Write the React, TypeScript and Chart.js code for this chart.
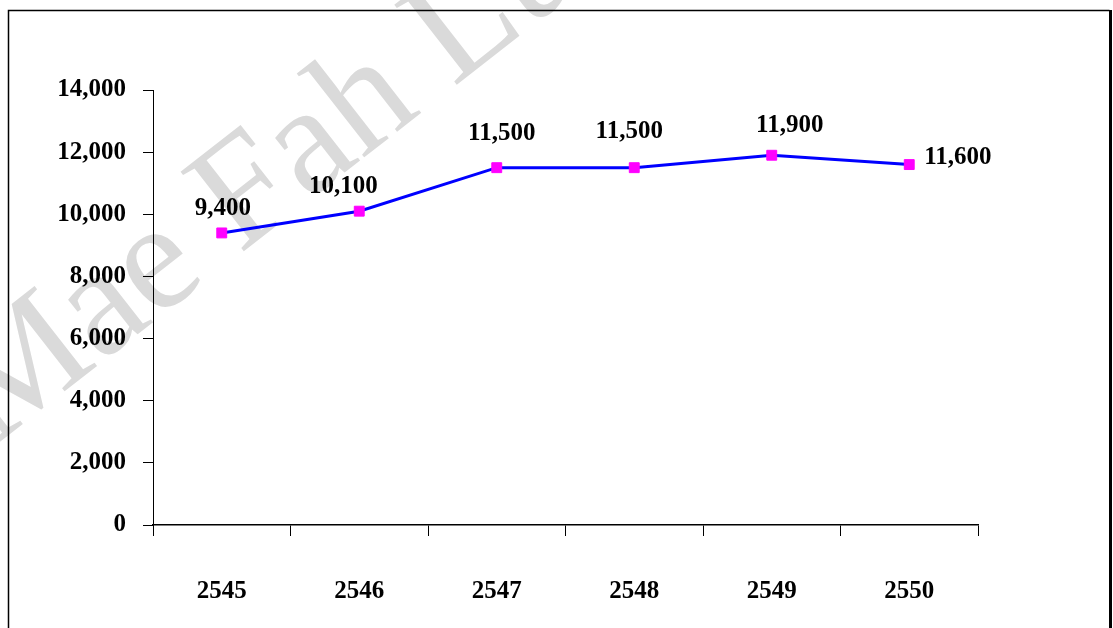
import React, { useEffect, useRef } from "react";
import { Chart, registerables } from "chart.js";

Chart.register(...registerables);

const years: string[] = ["2545", "2546", "2547", "2548", "2549", "2550"];
const values: number[] = [9400, 10100, 11500, 11500, 11900, 11600];
const yMin = 0;
const yMax = 14000;
const yStep = 2000;
const watermarkText = "Mae Fah Luang";

const FONT = "'Liberation Serif', 'Times New Roman', serif";

// label placement relative to each point (dx, dy to baseline, align)
const labelPlacement = [
  { dx: 1, dy: -18, align: "center" },
  { dx: -16, dy: -18, align: "center" },
  { dx: 5, dy: -28, align: "center" },
  { dx: -5, dy: -30, align: "center" },
  { dx: 18, dy: -23, align: "center" },
  { dx: 15, dy: -1, align: "left" },
];

const fmt = (v: number) => v.toLocaleString("en-US");

const framePlugin = {
  id: "frame",
  beforeDraw(chart: any) {
    const ctx = chart.ctx;
    ctx.save();
    ctx.fillStyle = "#ffffff";
    ctx.fillRect(0, 0, chart.width, chart.height);
    // watermark
    ctx.translate(-8, 448);
    ctx.rotate((-38 * Math.PI) / 180);
    ctx.font = `155px ${FONT}`;
    ctx.fillStyle = "#dadada";
    ctx.textBaseline = "alphabetic";
    ctx.textAlign = "left";
    ctx.fillText(watermarkText, 0, 0);
    ctx.restore();
    // frame
    ctx.save();
    ctx.strokeStyle = "#000000";
    ctx.lineWidth = 1.5;
    ctx.beginPath();
    ctx.moveTo(8.5, chart.height + 5);
    ctx.lineTo(8.5, 10.5);
    ctx.lineTo(1109.5, 10.5);
    ctx.stroke();
    ctx.lineWidth = 3;
    ctx.beginPath();
    ctx.moveTo(1110.5, 10);
    ctx.lineTo(1110.5, chart.height + 5);
    ctx.stroke();
    ctx.restore();
  },
};

const labelPlugin = {
  id: "valueLabels",
  afterDatasetsDraw(chart: any) {
    const ctx = chart.ctx;
    const meta = chart.getDatasetMeta(0);
    ctx.save();
    ctx.font = `bold 25px ${FONT}`;
    ctx.fillStyle = "#000000";
    ctx.textBaseline = "alphabetic";
    meta.data.forEach((pt: any, i: number) => {
      const p = labelPlacement[i];
      ctx.textAlign = p.align;
      ctx.fillText(fmt(values[i]), pt.x + p.dx, pt.y + p.dy);
    });
    ctx.restore();
  },
};

export default function App() {
  const ref = useRef<HTMLCanvasElement | null>(null);
  useEffect(() => {
    if (!ref.current) return;
    const chart = new Chart(ref.current, {
      type: "line",
      data: {
        labels: years,
        datasets: [
          {
            data: values,
            borderColor: "#0000ff",
            borderWidth: 3,
            backgroundColor: "#ff00ff",
            pointStyle: "rect",
            pointRadius: 7,
            pointBackgroundColor: "#ff00ff",
            pointBorderColor: "#ff00ff",
            pointBorderWidth: 1,
            tension: 0,
            fill: false,
          },
        ],
      },
      options: {
        animation: false,
        responsive: false,
        devicePixelRatio: 1,
        layout: { padding: { left: 57, right: 135, top: 90, bottom: 0 } },
        plugins: {
          legend: { display: false },
          tooltip: { enabled: false },
          title: { display: false },
        },
        scales: {
          x: {
            type: "category",
            offset: true,
            grid: {
              offset: true,
              drawOnChartArea: false,
              drawTicks: true,
              tickLength: 11,
              tickColor: "#000000",
              lineWidth: 1,
            },
            border: { color: "#000000", width: 1.5 },
            ticks: {
              color: "#000000",
              font: { family: FONT, size: 25, weight: "bold" },
              padding: 41,
              maxRotation: 0,
            },
            afterFit(scale: any) {
              scale.height = 103;
            },
          },
          y: {
            min: yMin,
            max: yMax,
            grid: {
              drawOnChartArea: false,
              drawTicks: true,
              tickLength: 10,
              tickColor: "#000000",
              lineWidth: 1,
            },
            border: { color: "#000000", width: 1 },
            ticks: {
              stepSize: yStep,
              color: "#000000",
              font: { family: FONT, size: 25, weight: "bold" },
              padding: 17,
              callback: (v: any) => fmt(Number(v)),
            },
            afterFit(scale: any) {
              scale.width = 96;
            },
          },
        },
      },
      plugins: [framePlugin, labelPlugin],
    });
    return () => chart.destroy();
  }, []);
  return (
    <div style={{ position: "fixed", left: 0, top: 0, width: 1113, height: 628, background: "#fff" }}>
      <canvas ref={ref} width={1113} height={628} style={{ display: "block", width: 1113, height: 628 }} />
    </div>
  );
}
